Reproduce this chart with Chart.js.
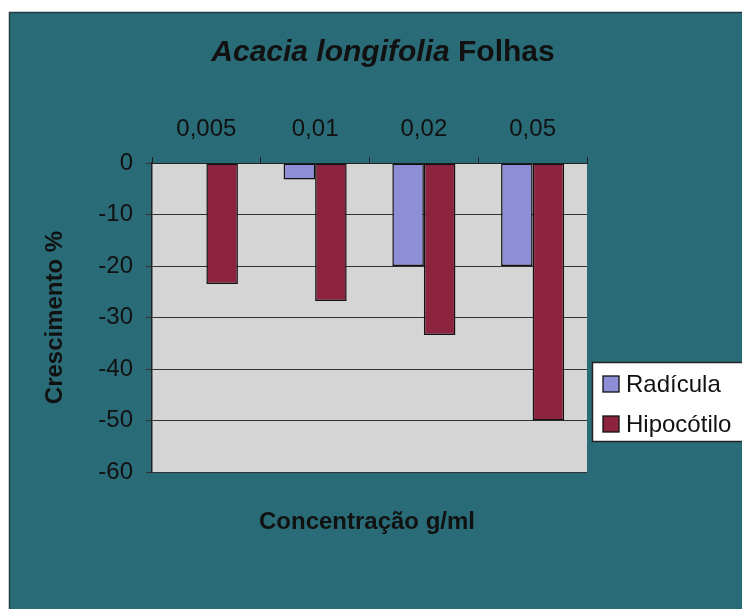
<!DOCTYPE html>
<html>
<head>
<meta charset="utf-8">
<script src="https://cdn.jsdelivr.net/npm/chart.js@4/dist/chart.umd.min.js"></script>
<style>
  html, body { margin: 0; padding: 0; background: #ffffff; }
  #wrap { position: relative; width: 742px; height: 609px; }
</style>
</head>
<body>
<div id="wrap"><canvas id="c" width="742" height="609"></canvas></div>
<script>
// Concentrations (g/ml) and growth change (%) for each seedling part
const concentracoes = ['0,005', '0,01', '0,02', '0,05'];
const radicula = [0, -3.2, -20, -20];
const hipocotilo = [-23.5, -26.8, -33.4, -50];
const serieNomes = ['Radícula', 'Hipocótilo'];
const serieCores = ['#8e8ed6', '#8c2440'];

const FONT = '"Liberation Sans", Arial, Helvetica, sans-serif';

// Teal frame, grey plot area, mixed-style title, bottom axis title and boxed legend
const decor = {
  id: 'decor',
  beforeDraw(chart) {
    const ctx = chart.ctx;
    const a = chart.chartArea;
    ctx.save();
    ctx.fillStyle = '#2a6b78';
    ctx.fillRect(9, 12, 742 - 9, 609 - 12);
    ctx.strokeStyle = '#1e3c44';
    ctx.lineWidth = 1.5;
    ctx.beginPath();
    ctx.moveTo(9.5, 609);
    ctx.lineTo(9.5, 12.5);
    ctx.lineTo(742, 12.5);
    ctx.stroke();
    ctx.fillStyle = '#d5d5d5';
    ctx.fillRect(a.left, a.top, a.right - a.left, a.bottom - a.top);
    ctx.restore();
  },
  afterDraw(chart) {
    const ctx = chart.ctx;
    ctx.save();
    ctx.fillStyle = '#111111';
    ctx.textBaseline = 'middle';

    // Title: species name in italics, organ in upright bold
    const partA = 'Acacia longifolia';
    const partB = ' Folhas';
    const fA = 'italic bold 30px ' + FONT;
    const fB = 'bold 30px ' + FONT;
    ctx.font = fA; const wA = ctx.measureText(partA).width;
    ctx.font = fB; const wB = ctx.measureText(partB).width;
    const x = 383 - (wA + wB) / 2;
    ctx.textAlign = 'left';
    ctx.font = fA; ctx.fillText(partA, x, 53);
    ctx.font = fB; ctx.fillText(partB, x + wA, 53);

    // Horizontal axis title below the plot
    ctx.textAlign = 'center';
    ctx.font = 'bold 24px ' + FONT;
    ctx.fillText('Concentração g/ml', 367, 522);

    // Legend box
    const lx = 592, ly = 362, lw = 170, lh = 79;
    ctx.fillStyle = '#ffffff';
    ctx.fillRect(lx, ly, lw, lh);
    ctx.strokeStyle = '#222222';
    ctx.lineWidth = 1.5;
    ctx.strokeRect(lx + 0.5, ly + 0.5, lw, lh);
    chart.data.datasets.forEach((ds, i) => {
      const cy = 384 + i * 40;
      ctx.fillStyle = ds.backgroundColor;
      ctx.fillRect(603, cy - 8, 16, 16);
      ctx.strokeStyle = '#111111';
      ctx.lineWidth = 1.3;
      ctx.strokeRect(603, cy - 8, 16, 16);
      ctx.fillStyle = '#111111';
      ctx.textAlign = 'left';
      ctx.font = '24px ' + FONT;
      ctx.fillText(ds.label, 626, cy + 1);
    });
    ctx.restore();
  }
};

new Chart(document.getElementById('c'), {
  type: 'bar',
  data: {
    labels: concentracoes,
    datasets: [
      { label: serieNomes[0], data: radicula, backgroundColor: serieCores[0] },
      { label: serieNomes[1], data: hipocotilo, backgroundColor: serieCores[1] }
    ]
  },
  options: {
    responsive: false,
    animation: false,
    devicePixelRatio: 1,
    layout: { padding: { left: 0, top: 0, right: 155, bottom: 137 } },
    datasets: {
      bar: {
        borderColor: '#111111',
        borderWidth: 1.5,
        borderSkipped: false,
        categoryPercentage: 0.58,
        barPercentage: 1.0
      }
    },
    plugins: {
      legend: { display: false },
      title: { display: false },
      tooltip: { enabled: false }
    },
    scales: {
      x: {
        position: 'top',
        offset: true,
        afterFit(scale) { scale.height = 163; },
        grid: {
          offset: true,
          drawOnChartArea: false,
          drawTicks: true,
          tickLength: 6,
          color: '#222222',
          lineWidth: 1
        },
        border: { display: true, color: '#222222', width: 1 },
        ticks: {
          color: '#111111',
          padding: 13,
          font: { family: FONT, size: 24 }
        }
      },
      y: {
        min: -60,
        max: 0,
        afterFit(scale) { scale.width = 152; },
        grid: {
          color: '#333333',
          lineWidth: 1,
          drawTicks: true,
          tickLength: 6
        },
        border: { display: true, color: '#222222', width: 1.5 },
        ticks: {
          stepSize: 10,
          color: '#111111',
          padding: 13,
          font: { family: FONT, size: 24 }
        },
        title: {
          display: true,
          text: 'Crescimento %',
          color: '#111111',
          padding: { top: 41, bottom: 0 },
          font: { family: FONT, size: 24, weight: 'bold' }
        }
      }
    }
  },
  plugins: [decor]
});
</script>
</body>
</html>
